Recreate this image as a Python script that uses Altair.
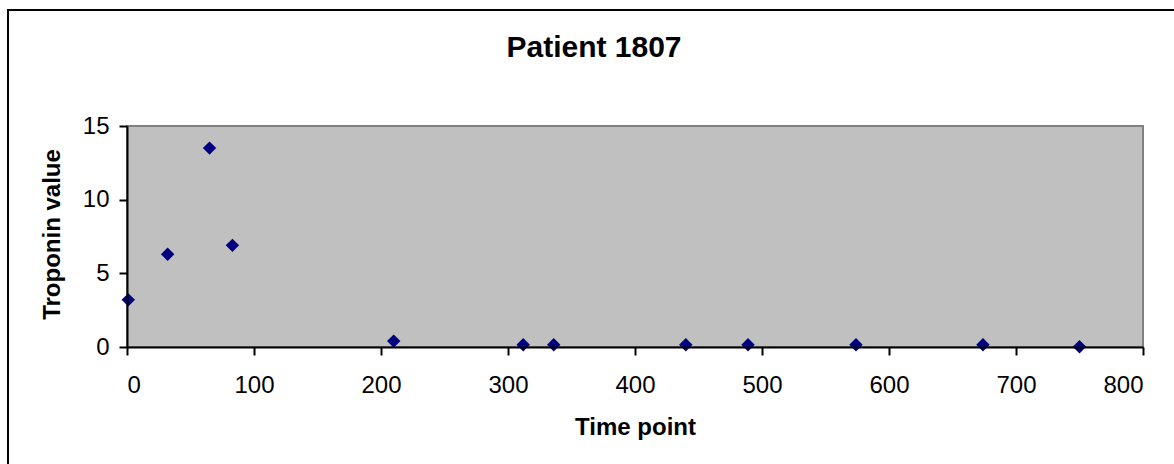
import altair as alt
import pandas as pd

times = [1, 32, 65, 83, 210, 312, 336, 440, 489, 574, 674, 750]
troponin = [3.2, 6.3, 13.5, 6.9, 0.4, 0.15, 0.15, 0.15, 0.15, 0.15, 0.15, 0.02]
title_text = ["Patient 1807"]

df = pd.DataFrame({"time": times, "troponin": troponin})

FONT = "Liberation Sans"

# outer chart frame: extends past the right and bottom edges of the picture
border = alt.Chart(pd.DataFrame({"a": [0]})).mark_rect(
    fill="transparent", fillOpacity=0, stroke="black", strokeWidth=2
).encode(
    x=alt.value(-119), x2=alt.value(1055), y=alt.value(-116), y2=alt.value(345)
)

panel = alt.Chart(pd.DataFrame({"a": [0]})).mark_rect(
    fill="#C0C0C0", stroke="#808080", strokeWidth=2
).encode(
    x=alt.value(0), x2=alt.value(1016), y=alt.value(0), y2=alt.value(221)
)

title = alt.Chart(pd.DataFrame({"t": title_text})).mark_text(
    font=FONT, fontSize=30, fontWeight="bold", color="black",
    align="center", baseline="middle"
).encode(text="t:N", x=alt.value(467), y=alt.value(-78))

points = alt.Chart(df).mark_point(
    shape="diamond", filled=True, color="#000080", opacity=1, size=180
).encode(
    x=alt.X("time:Q", scale=alt.Scale(domain=[0, 800], nice=False),
            axis=alt.Axis(values=[0, 100, 200, 300, 400, 500, 600, 700, 800],
                          title="Time point", titleX=508, titleY=80,
                          titleBaseline="middle", labelPadding=18, zindex=1)),
    y=alt.Y("troponin:Q", scale=alt.Scale(domain=[0, 15], nice=False),
            axis=alt.Axis(values=[0, 5, 10, 15], title="Troponin value",
                          titleX=-75, titleY=108, titleBaseline="middle",
                          titleAngle=270, labelPadding=10, zindex=1)),
)

chart = alt.layer(border, panel, title, points).properties(
    width=1016, height=221,
    autosize=alt.AutoSizeParams(type="none"),
    padding={"left": 127, "top": 126, "right": 31, "bottom": 117},
    background="white",
).configure_view(stroke=None).configure_axis(
    grid=False, domainColor="black", domainWidth=2, tickColor="black",
    tickWidth=2, tickSize=8, labelFont=FONT, labelFontSize=24, labelColor="black",
    titleFont=FONT, titleFontSize=24, titleFontWeight="bold", titleColor="black",
)

chart.save("out.html", embed_options={"renderer": "svg", "actions": False})
